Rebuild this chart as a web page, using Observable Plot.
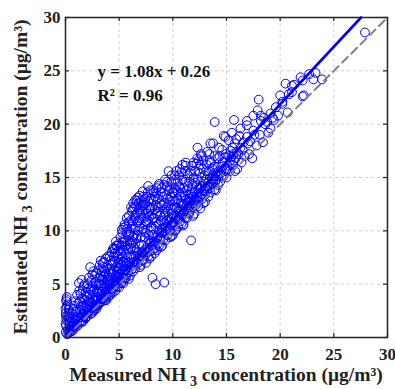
<!DOCTYPE html>
<html>
<head>
<meta charset="utf-8">
<script src="https://cdn.jsdelivr.net/npm/d3@7"></script>
<script src="https://cdn.jsdelivr.net/npm/@observablehq/plot@0.6"></script>
<style>
  html, body { margin: 0; padding: 0; background: #fff; }
  #chart svg { font-family: "Liberation Serif", "Times New Roman", serif !important; font-weight: bold; }
</style>
</head>
<body>
<div id="chart"></div>
<script>
// ---- data ----
const measured = [
  0.02,0.05,0.08,0.03,0.1,0.06,0.12,0.2,0.25,0.18,0.3,0.22,0.35,0.4,0.5,0.55,0.6,0.7,0.75,0.8,0.85,0.9,0.95,0.45,0.65,
  1.05,1.1,1.15,1.2,1.25,1.3,1.35,1.4,1.45,1.5,1.55,1.6,1.65,1.7,1.75,1.8,1.85,1.9,1.95,1.5,
  2.0,2.05,2.1,2.15,2.2,2.3,2.3,2.35,2.4,2.45,2.5,2.55,2.6,2.65,2.7,2.75,2.8,2.85,2.9,2.95,2.5,2.25,
  3.0,3.05,3.1,3.15,3.2,3.25,3.3,3.35,3.4,3.45,3.5,3.55,3.6,3.65,3.7,3.75,3.8,3.85,3.9,3.95,3.5,3.3,3.7,
  4.0,4.05,4.1,4.15,4.2,4.25,4.3,4.35,4.4,4.45,4.5,4.55,4.6,4.65,4.7,4.75,4.8,4.85,4.9,4.95,4.5,4.3,4.7,4.9,4.2,
  5.0,5.05,5.1,5.15,5.2,5.25,5.3,5.35,5.4,5.45,5.5,5.55,5.6,5.65,5.7,5.75,5.8,5.85,5.9,5.95,5.5,5.3,5.7,5.9,5.2,5.6,5.4,
  6.0,6.05,6.1,6.15,6.2,6.25,6.3,6.35,6.4,6.45,6.5,6.5,6.55,6.6,6.65,6.7,6.7,6.75,6.8,6.85,6.9,6.95,6.3,6.2,6.6,6.8,6.4,6.0,
  7.0,7.05,7.1,7.15,7.2,7.25,7.3,7.35,7.4,7.45,7.5,7.55,7.6,7.65,7.7,7.75,7.8,7.85,7.9,7.95,7.3,7.6,7.1,7.8,7.4,7.9,
  8.1,8.4,9.2,
  8.0,8.05,8.1,8.15,8.2,8.25,8.3,8.35,8.4,8.45,8.5,8.55,8.6,8.65,8.7,8.75,8.8,8.85,8.9,8.95,8.3,8.6,8.9,8.2,
  9.0,9.05,9.1,9.15,9.2,9.3,9.35,9.4,9.45,9.5,9.55,9.6,9.65,9.7,9.75,9.8,9.85,9.9,9.95,9.3,9.7,9.5,9.9,
  10.0,10.05,10.1,10.15,10.2,10.3,10.35,10.4,10.45,10.5,10.55,10.6,10.65,10.7,10.75,10.8,10.85,10.9,10.95,10.3,10.6,10.9,10.2,
  11.0,11.05,11.1,11.15,11.2,11.3,11.35,11.4,11.5,11.55,11.6,11.65,11.7,11.75,11.8,11.85,11.9,11.95,11.4,11.2,11.7,
  12.0,12.05,12.1,12.2,12.3,12.35,12.4,12.5,12.55,12.6,12.7,12.75,12.8,12.85,12.9,12.95,12.4,12.6,
  13.0,13.05,13.1,13.2,13.3,13.35,13.45,13.5,13.6,13.9,13.75,13.8,13.85,13.9,13.95,13.4,13.65,13.5,
  14.0,14.1,14.2,14.3,14.4,14.5,14.6,14.7,14.8,14.9,14.95,14.45,14.75,14.2,
  15.0,15.1,15.2,15.3,15.4,15.5,15.6,15.7,15.75,15.8,15.9,15.45,15.85,15.7,
  16.0,16.1,16.3,16.3,16.2,16.4,16.6,16.9,16.9,16.9,16.7,17.1,17.2,17.5,17.5,17.4,17.8,17.9,18.0,18.2,18.2,18.1,18.5,18.4,18.8,18.9,19.1,19.1,19.4,19.6,19.8,20.0,20.2,20.2,20.5,20.7,20.8,21.1,21.1,21.3,21.9,22.1,22.1,22.2,22.7,23.1,23.3,23.9,27.9,
  16.5,17.0,17.6,18.6,19.3
];
const estimated = [
  0.5,1.1,1.7,2.3,2.9,3.4,3.8,0.7,1.4,2.0,2.6,3.1,0.6,1.0,0.8,1.5,2.2,1.0,1.3,3.0,0.9,1.6,2.4,1.8,0.7,
  1.2,1.6,2.0,3.2,5.1,1.5,2.6,4.1,1.4,1.9,3.6,2.2,1.6,4.8,2.0,2.9,1.8,2.3,3.9,5.4,
  2.0,2.6,3.4,4.6,2.5,6.6,3.0,2.2,5.3,2.8,3.7,4.3,2.5,3.1,5.8,2.9,3.4,4.9,2.7,3.8,5.9,4.0,
  3.0,3.6,4.4,5.6,6.8,3.3,3.9,4.9,6.2,3.4,4.0,5.3,7.1,3.7,4.3,6.0,3.5,4.6,5.2,7.6,6.6,5.8,5.0,
  3.8,4.5,5.4,6.4,7.2,4.3,8.0,5.0,6.0,4.6,7.6,5.3,8.3,4.4,6.6,5.6,8.6,4.8,7.0,5.9,8.4,6.8,9.0,8.1,5.0,
  4.7,5.6,6.5,7.4,8.6,10.1,5.2,6.0,7.0,9.2,5.5,6.4,10.4,7.8,5.9,10.2,6.7,8.3,5.5,9.6,10.6,8.9,11.2,11.4,7.9,6.3,5.1,
  5.8,6.6,7.5,8.8,10.4,12.0,6.2,7.1,9.6,11.2,6.5,11.4,7.6,8.2,12.8,6.9,13.1,10.0,7.4,12.0,8.6,6.6,12.6,11.8,9.3,11.0,8.4,9.9,
  6.8,7.7,8.7,10.2,11.8,13.2,7.3,8.2,9.4,12.6,7.0,8.4,10.8,13.6,7.6,9.1,12.2,8.1,10.0,13.0,12.4,11.6,12.8,7.4,10.6,13.8,
  5.6,5.0,5.15,
  7.6,8.6,9.6,11.2,12.9,13.6,7.9,9.0,10.4,13.5,8.2,9.4,11.8,14.2,8.6,10.0,12.6,9.2,10.9,14.0,12.0,13.0,8.5,10.2,
  8.6,9.8,11.0,12.6,14.3,9.1,10.4,13.4,14.6,9.6,11.8,15.6,10.2,12.9,9.4,11.2,14.6,10.6,13.6,11.6,14.0,13.0,9.5,
  9.6,10.8,12.2,14.0,15.2,10.1,11.4,13.0,14.6,10.4,11.9,14.2,15.8,10.9,12.6,15.5,11.5,13.6,10.5,13.8,11.1,16.2,10.0,
  10.6,11.8,13.3,14.6,16.1,11.2,12.4,14.2,11.6,13.0,15.4,12.0,9.1,14.0,16.1,12.6,11.4,15.0,12.8,16.4,13.4,
  11.6,12.9,14.5,16.3,17.8,12.3,13.5,15.4,12.1,14.0,17.0,13.0,15.8,12.6,14.6,13.7,16.6,17.2,
  12.7,14.0,15.6,17.4,13.2,14.6,16.6,13.6,15.1,20.2,18.2,14.4,16.0,13.9,15.4,17.2,14.9,18.2,
  13.8,15.2,16.8,17.8,14.6,16.0,17.6,15.1,16.9,18.8,15.6,15.4,18.9,14.3,
  15.0,16.1,18.5,15.6,17.5,19.2,16.2,20.4,18.2,15.6,18.6,16.9,16.8,16.6,
  15.8,17.2,17.8,19.6,18.9,16.4,18.3,18.8,19.9,20.3,17.0,17.2,18.4,19.4,20.8,16.8,18.0,21.3,22.3,20.3,20.8,19.0,20.6,18.3,20.2,19.2,21.0,19.6,20.4,21.6,20.8,22.7,22.1,21.9,23.8,21.1,22.8,23.0,23.6,23.7,24.4,24.1,22.6,22.7,24.7,24.2,24.8,24.2,28.6,
  17.6,18.2,19.0,20.0,20.6
];
// denser fill of the band above the fit line
const measuredFill = [
  0.0,0.04,0.0,0.08,0.15,0.28,0.38,0.42,0.58,0.62,0.68,0.72,0.88,0.92,0.98,
  1.02,1.08,1.12,1.22,1.28,1.32,1.38,1.42,1.58,1.62,1.68,1.72,1.78,1.82,1.88,1.92,1.98,
  2.02,2.08,2.12,2.18,2.22,2.28,2.38,2.42,2.48,2.52,2.58,2.62,2.68,2.72,2.78,2.82,2.88,2.92,2.98,
  3.02,3.08,3.12,3.18,3.22,3.28,3.32,3.38,3.42,3.48,3.52,3.58,3.62,3.68,3.72,3.78,3.82,3.88,3.92,3.98,3.6,
  4.02,4.08,4.12,4.18,4.22,4.28,4.32,4.38,4.42,4.48,4.52,4.58,4.62,4.68,4.72,4.78,4.82,4.88,4.92,4.98,4.6,4.4,
  5.02,5.08,5.12,5.18,5.22,5.28,5.32,5.38,5.42,5.48,5.52,5.58,5.62,5.68,5.72,5.78,5.82,5.88,5.92,5.98,5.4,5.8,5.6,5.1,
  6.02,6.08,6.12,6.18,6.22,6.28,6.32,6.38,6.42,6.48,6.52,6.58,6.62,6.68,6.72,6.78,6.82,6.88,6.92,6.98,6.1,6.5,6.9,6.3,6.7,
  7.02,7.08,7.12,7.18,7.22,7.28,7.32,7.38,7.42,7.48,7.52,7.58,7.62,7.68,7.72,7.78,7.82,7.88,7.92,7.98,7.2,7.5,7.7,7.0,
  8.02,8.08,8.12,8.18,8.22,8.28,8.32,8.38,8.42,8.48,8.52,8.58,8.62,8.68,8.72,8.78,8.82,8.88,8.92,8.98,8.5,8.1,
  9.02,9.08,9.12,9.18,9.22,9.28,9.32,9.38,9.42,9.48,9.52,9.58,9.62,9.68,9.72,9.78,9.82,9.88,9.92,9.98,
  10.02,10.08,10.12,10.18,10.22,10.28,10.32,10.38,10.42,10.48,10.52,10.58,10.62,10.68,10.72,10.78,10.82,10.88,10.92,10.98,
  11.02,11.08,11.12,11.18,11.22,11.28,11.32,11.38,11.42,11.48,11.52,11.58,11.62,11.68,11.72,11.78,11.82,11.88,11.92,11.98,
  12.02,12.08,12.12,12.18,12.22,12.28,12.32,12.38,12.45,12.52,12.58,12.65,12.72,12.78,12.82,12.88,12.95,
  13.02,13.1,13.15,13.25,13.35,13.42,13.55,13.62,13.7,13.78,13.88,13.95,
  14.05,14.15,14.25,14.35,14.55,14.65,14.85,14.95,
  15.05,15.25,15.35,15.55,15.65,15.95
];
const estimatedFill = [
  1.3,2.0,2.7,3.6,0.3,1.9,2.3,0.5,1.1,0.6,1.8,2.7,1.2,3.4,1.9,
  2.5,4.0,1.1,1.8,4.4,3.4,1.9,2.9,4.4,1.5,3.0,2.5,5.0,3.5,4.3,1.9,2.8,
  3.8,5.0,2.3,5.6,3.3,2.6,4.4,3.3,2.3,4.8,6.2,3.5,4.5,2.6,5.2,2.9,6.0,4.3,3.1,
  4.2,5.0,6.3,3.2,4.9,7.2,3.6,4.3,5.4,7.0,3.7,4.7,6.2,3.5,7.4,4.2,5.6,6.6,4.0,5.4,5.7,
  5.0,6.0,7.6,4.0,5.6,6.2,4.6,7.0,8.3,5.2,6.3,7.2,4.8,5.8,8.6,6.2,7.6,5.3,6.5,8.8,7.9,4.2,
  6.0,7.0,9.4,5.1,6.8,9.8,7.6,5.6,8.2,6.7,9.0,7.2,5.6,9.9,7.0,8.7,6.1,10.8,7.6,9.0,10.3,9.6,8.6,8.1,
  7.0,8.4,11.0,6.4,9.0,10.9,7.7,12.2,6.8,10.2,8.8,12.3,7.1,11.7,9.6,8.0,12.6,10.4,7.7,11.6,12.2,12.9,13.3,9.4,10.8,
  9.4,11.2,7.2,12.4,8.0,10.0,11.2,13.0,7.7,9.8,12.0,13.2,8.0,11.0,12.8,9.6,11.4,8.9,12.0,9.0,13.7,10.9,14.2,12.2,
  10.4,12.2,8.2,13.8,9.0,11.2,13.2,8.4,12.4,10.8,14.0,8.8,10.6,12.2,14.4,9.4,11.4,13.6,9.8,12.4,11.6,11.6,
  10.2,13.2,9.2,11.4,12.0,14.8,10.0,12.2,11.0,14.2,10.6,12.4,13.8,11.0,10.0,13.2,12.0,15.2,11.6,12.8,
  11.4,13.6,10.5,12.8,14.8,11.2,15.6,12.2,11.0,13.6,12.6,15.2,11.6,14.0,12.0,13.2,10.7,14.8,12.4,11.6,
  12.4,14.0,11.2,15.6,12.9,13.8,11.8,15.2,13.4,12.2,14.6,11.8,12.8,15.6,13.0,12.2,14.4,13.2,16.4,12.4,
  13.6,15.6,12.4,14.2,13.2,16.8,14.8,12.8,14.0,16.2,13.2,15.0,14.2,13.4,16.6,13.8,15.2,
  13.4,14.8,16.2,14.2,15.6,14.0,16.4,14.4,15.8,14.8,17.0,14.6,
  14.8,16.0,15.6,17.0,15.2,16.4,15.8,17.2,
  15.8,17.0,16.6,17.8,17.2,17.4
];
const xTicks = [0, 5, 10, 15, 20, 25, 30];
const yTicks = [0, 5, 10, 15, 20, 25, 30];
const gridValues = [5, 10, 15, 20, 25];
const axisMax = 30;
const fitSlope = 1.08;
const fitIntercept = 0.26;
const equationText = "y = 1.08x + 0.26";
const r2Text = "R\u00B2 = 0.96";

if (measured.length !== estimated.length) throw new Error("length mismatch " + measured.length + " vs " + estimated.length);
if (measuredFill.length !== estimatedFill.length) throw new Error("fill mismatch " + measuredFill.length + " vs " + estimatedFill.length);

const points = measured.map((m, i) => ({m, e: estimated[i]}))
  .concat(measuredFill.map((m, i) => ({m, e: estimatedFill[i]})));
const oneToOne = [{x: 0, y: 0}, {x: axisMax, y: axisMax}];
const fitEnd = (axisMax - fitIntercept) / fitSlope;
const fitLine = [{x: 0, y: fitIntercept}, {x: fitEnd, y: fitSlope * fitEnd + fitIntercept}];

const W = 395, H = 389;
const mL = 65, mR = 8, mT = 17, mB = 52;
const innerH = H - mT - mB, innerW = W - mL - mR;
const font = "Liberation Serif";
const ink = "#222";

const chart = Plot.plot({
  width: W, height: H,
  marginLeft: mL, marginRight: mR, marginTop: mT, marginBottom: mB,
  style: {background: "#fff", color: ink},
  x: {domain: [0, axisMax]},
  y: {domain: [0, axisMax]},
  marks: [
    Plot.gridX(gridValues, {stroke: "#cfcfcf", strokeOpacity: 1, strokeDasharray: "3,3"}),
    Plot.gridY(gridValues, {stroke: "#cfcfcf", strokeOpacity: 1, strokeDasharray: "3,3"}),
    Plot.dot(points, {x: "m", y: "e", r: 4.4, stroke: "#0000ff", strokeWidth: 1, fill: "none"}),
    Plot.line(oneToOne, {x: "x", y: "y", stroke: "#808080", strokeWidth: 2, strokeDasharray: "8,5"}),
    Plot.line(fitLine, {x: "x", y: "y", stroke: "#0000ff", strokeWidth: 2.6}),
    Plot.axisX(xTicks, {tickSize: 0, tickPadding: 10, label: null, fontSize: 17, fontWeight: "bold", fontFamily: font, fill: ink}),
    Plot.axisY(yTicks, {tickSize: 0, tickPadding: 5, label: null, fontSize: 17, fontWeight: "bold", fontFamily: font, fill: ink}),
    // inward ticks on all four sides
    Plot.tickX(xTicks, {x: d => d, insetTop: innerH - 4, stroke: ink, strokeWidth: 1.2}),
    Plot.tickX(xTicks, {x: d => d, insetBottom: innerH - 4, stroke: ink, strokeWidth: 1.2}),
    Plot.tickY(yTicks, {y: d => d, insetRight: innerW - 4, stroke: ink, strokeWidth: 1.2}),
    Plot.tickY(yTicks, {y: d => d, insetLeft: innerW - 4, stroke: ink, strokeWidth: 1.2}),
    Plot.frame({stroke: ink, strokeWidth: 1.5}),
    Plot.text([equationText], {x: 2.98, y: 24.9, text: d => d, textAnchor: "start", fontSize: 17, fontWeight: "bold", fontFamily: font, fill: "#111"}),
    Plot.text([r2Text], {x: 2.98, y: 22.7, text: d => d, textAnchor: "start", fontSize: 17, fontWeight: "bold", fontFamily: font, fill: "#111"})
  ]
});
document.getElementById("chart").appendChild(chart);

// axis titles with subscripts
const sx = chart.scale("x"), sy = chart.scale("y");
const svg = d3.select(chart);
const xMid = sx.apply(axisMax / 2), yMid = sy.apply(axisMax / 2);

const xl = svg.append("text")
  .attr("x", xMid).attr("y", H - 8)
  .attr("text-anchor", "middle")
  .attr("font-family", font).attr("font-weight", "bold").attr("font-size", 19.5).attr("fill", ink);
xl.append("tspan").text("Measured NH");
xl.append("tspan").attr("dy", 5).attr("font-size", 14).text(" 3");
xl.append("tspan").attr("dy", -5).text(" concentration (\u03BCg/m\u00B3)");

const yl = svg.append("text")
  .attr("transform", `translate(27,${yMid}) rotate(-90)`)
  .attr("text-anchor", "middle")
  .attr("font-family", font).attr("font-weight", "bold").attr("font-size", 19.5).attr("fill", ink);
yl.append("tspan").text("Estimated NH");
yl.append("tspan").attr("dy", 5).attr("font-size", 14).text(" 3");
yl.append("tspan").attr("dy", -5).text(" concentration (\u03BCg/m\u00B3)");
</script>
</body>
</html>
